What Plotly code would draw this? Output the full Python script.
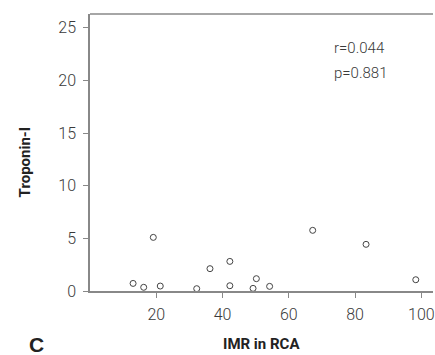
import plotly.graph_objects as go

imr = [13.0, 16.2, 19.1, 21.2, 32.2, 36.2, 42.2, 42.2, 49.2, 50.2, 54.2, 67.2, 83.3, 98.3]
troponin = [0.72, 0.35, 5.09, 0.47, 0.22, 2.12, 2.81, 0.50, 0.25, 1.17, 0.44, 5.76, 4.43, 1.07]
x_ticks = [20, 40, 60, 80, 100]
y_ticks = [0, 5, 10, 15, 20, 25]
stats_text = ["r=0.044", "p=0.881"]

W, H = 435, 355
L, R, T, B = 90, 0, 14, 64

fig = go.Figure()
fig.add_trace(go.Scatter(
    x=imr, y=troponin, mode="markers",
    marker=dict(symbol="circle-open", size=6, color="#444", line=dict(width=1, color="#444")),
    showlegend=False, hoverinfo="skip"))

axis_font = dict(family="Roboto", size=16, color="#3a3a3a", weight=300)
fig.update_xaxes(range=[0, 103.5], tickvals=x_ticks, ticks="outside", ticklen=5,
                 tickcolor="#888", tickwidth=1.2, showline=True, linecolor="#888", linewidth=1.5,
                 showgrid=False, zeroline=False, tickfont=axis_font, ticklabelstandoff=3,
                 ticklabeloverflow="allow")
fig.update_yaxes(range=[0, 26.3], tickvals=y_ticks, ticks="outside", ticklen=5,
                 tickcolor="#888", tickwidth=1.2, showline=True, linecolor="#888", linewidth=1.5,
                 showgrid=False, zeroline=False, tickfont=axis_font, ticklabelstandoff=4,
                 ticklabeloverflow="allow")

fig.add_shape(type="line", xref="paper", yref="paper", x0=0, x1=1, y0=1, y1=1,
              line=dict(color="#888", width=1.5))

ann = []
ann.append(dict(text="<b>IMR in RCA</b>", xref="paper", yref="paper", x=0.5, y=-(344 - (H - B)) / (H - T - B),
                xanchor="center", yanchor="middle", showarrow=False,
                font=dict(family="Roboto", size=15, color="#222")))
ann.append(dict(text="<b>Troponin-I</b>", xref="paper", yref="paper", x=-(90 - 25) / (W - L - R),
                y=(H - B - 162) / (H - T - B), textangle=-90,
                xanchor="center", yanchor="middle", showarrow=False,
                font=dict(family="Roboto", size=15, color="#222")))
ann.append(dict(text="<b>C</b>", xref="paper", yref="paper", x=-(90 - 36) / (W - L - R),
                y=-(344 - (H - B)) / (H - T - B),
                xanchor="center", yanchor="middle", showarrow=False,
                font=dict(family="Liberation Sans", size=21, color="#222")))
for i, t in enumerate(stats_text):
    ann.append(dict(text=t, xref="x", yref="paper", x=(333 - L) / ((W - L - R) / 103.5),
                    y=(H - B - (48 + 25 * i)) / (H - T - B),
                    xanchor="left", yanchor="middle", showarrow=False,
                    font=dict(family="Roboto", size=15, color="#3a3a3a", weight=300)))

fig.update_layout(width=W, height=H, margin=dict(l=L, r=R, t=T, b=B),
                  plot_bgcolor="white", paper_bgcolor="white", annotations=ann)

fig.write_html("out.html")
